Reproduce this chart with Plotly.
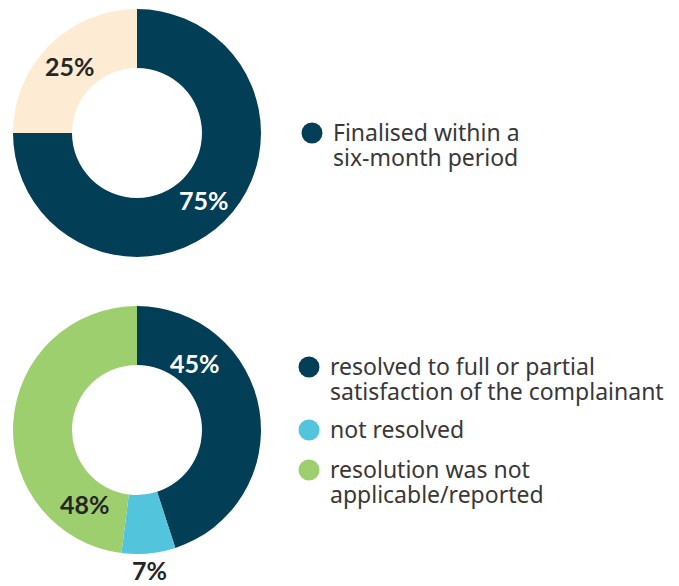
import math
import plotly.graph_objects as go

# ---- data ----
top_labels = ["Finalised within a six-month period", "Other"]
top_values = [75, 25]
top_colors = ["#023F57", "#FDEBD3"]
top_legend = [["Finalised within a", "six-month period"]]

bot_labels = ["resolved to full or partial satisfaction of the complainant",
              "not resolved", "resolution was not applicable/reported"]
bot_values = [45, 7, 48]
bot_colors = ["#023F57", "#52C4DB", "#9ECF6E"]
bot_legend = [["resolved to full or partial", "satisfaction of the complainant"],
              ["not resolved"],
              ["resolution was not", "applicable/reported"]]

W, H = 679, 586
CX = 137
TOP_CY, BOT_CY = 133, 430
R_OUT, R_IN = 124, 65

def px(x):
    return x / W

def py(y):
    return 1 - y / H

fig = go.Figure()
for vals, cols, labs, cy in [(top_values, top_colors, top_labels, TOP_CY),
                             (bot_values, bot_colors, bot_labels, BOT_CY)]:
    fig.add_trace(go.Pie(
        values=vals, labels=labs, marker=dict(colors=cols, line=dict(width=0)),
        hole=R_IN / R_OUT, sort=False, direction="clockwise", rotation=0,
        textinfo="none", hoverinfo="label+percent", showlegend=False,
        domain=dict(x=[px(CX - R_OUT), px(CX + R_OUT)],
                    y=[py(cy + R_OUT), py(cy - R_OUT)]),
    ))

annotations = []
shapes = []

# value labels: (angle from 12 o'clock clockwise in degrees, radius px, text colour)
top_label_pos = [(None, 95, "white"), (None, 95, "#262626")]
bot_label_pos = [(41, 89, "white"), (175, 141, "#262626"), (215, 90, "#262626")]

def add_value_labels(vals, pos, cy):
    total = sum(vals)
    start = 0
    for v, (ang, r, col) in zip(vals, pos):
        span = 360 * v / total
        a = ang if ang is not None else start + span / 2
        start += span
        x = CX + r * math.sin(math.radians(a))
        y = cy - r * math.cos(math.radians(a))
        annotations.append(dict(
            x=px(x), y=py(y), xref="paper", yref="paper", showarrow=False,
            text=f"<b>{v}%</b>", font=dict(family="Lato", size=25, color=col),
            xanchor="center", yanchor="middle"))

add_value_labels(top_values, top_label_pos, TOP_CY)
add_value_labels(bot_values, bot_label_pos, BOT_CY)

# legends
LINE_GAP = 25
def add_legend(items, colors, x0, ys):
    for lines, col, y in zip(items, colors, ys):
        r = 10.5
        shapes.append(dict(type="circle", xref="paper", yref="paper",
                           x0=px(x0 - r), x1=px(x0 + r), y0=py(y + r), y1=py(y - r),
                           fillcolor=col, line=dict(width=0)))
        for i, line in enumerate(lines):
            annotations.append(dict(
                x=px(x0 + 19), y=py(y + i * LINE_GAP - 1), xref="paper", yref="paper",
                showarrow=False, text=line, align="left",
                xanchor="left", yanchor="middle",
                font=dict(family="Noto Sans", size=23, color="#383838")))

add_legend(top_legend, top_colors, 312, [133])
add_legend(bot_legend, bot_colors, 309, [367, 430, 470])

fig.update_layout(
    width=W, height=H, margin=dict(l=0, r=0, t=0, b=0),
    paper_bgcolor="white", plot_bgcolor="white",
    annotations=annotations, shapes=shapes,
)

fig.write_html("out.html")
